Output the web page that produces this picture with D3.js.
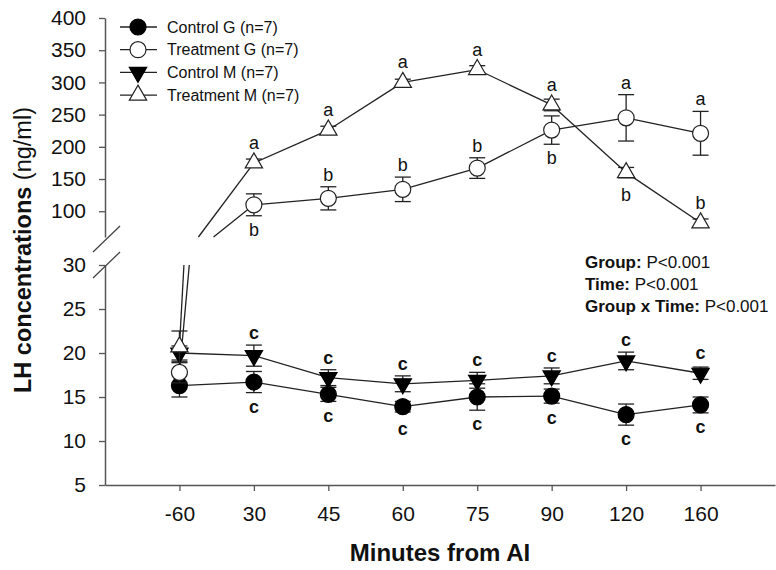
<!DOCTYPE html>
<html>
<head>
<meta charset="utf-8">
<script src="https://d3js.org/d3.v7.min.js"></script>
<style>
  body { margin: 0; background: #fff; }
  text { font-family: "Liberation Sans", Arial, sans-serif; fill: #111; }
</style>
</head>
<body>
<script>
// time points (x categories)
const timeLabels = ['-60', '30', '45', '60', '75', '90', '120', '160'];

// LH means and SEM
const controlG    = [16.3, 16.7, 15.3, 13.9, 15.0, 15.1, 13.0, 14.1];
const controlGErr = [1.3, 1.2, 0.8, 0.6, 1.5, 0.8, 1.2, 0.9];
const treatG      = [17.8, 110, 120, 134, 167, 226, 245, 221];
const treatGErr   = [1.2, 17, 18, 19, 16, 22, 36, 34];
const controlM    = [20.0, 19.7, 17.2, 16.5, 16.9, 17.4, 19.1, 17.7];
const controlMErr = [0.8, 1.2, 0.9, 0.9, 0.9, 0.9, 1.0, 0.7];
const treatM      = [20.7, 175, 226, 300, 320, 265, 160, 82];
const treatMErr   = [1.8, 6, 6, 5, 6, 9, 8, 6];

// significance letters + which side of the point they sit on
const lettersControlG = ['', 'c', 'c', 'c', 'c', 'c', 'c', 'c'];
const sidesControlG   = ['', 'below', 'below', 'below', 'below', 'below', 'below', 'below'];
const lettersTreatG   = ['', 'b', 'b', 'b', 'b', 'b', 'a', 'a'];
const sidesTreatG     = ['', 'below', 'above', 'above', 'above', 'below', 'above', 'above'];
const lettersControlM = ['', 'c', 'c', 'c', 'c', 'c', 'c', 'c'];
const sidesControlM   = ['', 'above', 'above', 'above', 'above', 'above', 'above', 'above'];
const lettersTreatM   = ['', 'a', 'a', 'a', 'a', 'a', 'b', 'b'];
const sidesTreatM     = ['', 'above', 'above', 'above', 'above', 'above', 'below', 'above'];

const upperTicks = [100, 150, 200, 250, 300, 350, 400];
const lowerTicks = [5, 10, 15, 20, 25, 30];
const statsLines = [['Group:', ' P<0.001'], ['Time:', ' P<0.001'], ['Group x Time:', ' P<0.001']];

const series = [
  {name: 'Control G (n=7)',   vals: controlG, err: controlGErr, shape: 'circle',   filled: true,  letters: lettersControlG, sides: sidesControlG},
  {name: 'Treatment G (n=7)', vals: treatG,   err: treatGErr,   shape: 'circle',   filled: false, letters: lettersTreatG,   sides: sidesTreatG},
  {name: 'Control M (n=7)',   vals: controlM, err: controlMErr, shape: 'down',     filled: true,  letters: lettersControlM, sides: sidesControlM},
  {name: 'Treatment M (n=7)', vals: treatM,   err: treatMErr,   shape: 'triangle', filled: false, letters: lettersTreatM,   sides: sidesTreatM}
];

const width = 776, height = 570;
const ink = '#222';

const svg = d3.select('body').append('svg')
  .attr('width', width)
  .attr('height', height);

// x: category index 1..8 on a 0..9 span
const x = d3.scaleLinear().domain([0, 9]).range([105, 775]);
// broken y axis
const yHigh = d3.scaleLinear().domain([60, 400]).range([237, 18]);
const yLow  = d3.scaleLinear().domain([5, 30]).range([485, 265]);
const yOf = v => v <= 30 ? yLow(v) : yHigh(v);

// axes
function styleAxis(g, fontSize) {
  g.select('.domain').attr('stroke', '#555').attr('stroke-width', 1.5);
  g.selectAll('.tick line').attr('stroke', '#555').attr('stroke-width', 1.3);
  g.selectAll('.tick text')
    .attr('font-size', fontSize)
    .attr('font-family', '"Liberation Sans", Arial, sans-serif')
    .attr('fill', '#111');
}

const xAxis = svg.append('g')
  .attr('transform', `translate(0,${yLow(5)})`)
  .call(d3.axisBottom(x)
    .tickValues(d3.range(1, timeLabels.length + 1))
    .tickFormat(i => timeLabels[i - 1])
    .tickSize(6).tickSizeOuter(0).tickPadding(15));
styleAxis(xAxis, 21);

const yAxisHigh = svg.append('g')
  .attr('transform', `translate(${x(0)},0)`)
  .call(d3.axisLeft(yHigh).tickValues(upperTicks).tickSize(6).tickSizeOuter(0).tickPadding(13));
styleAxis(yAxisHigh, 21);

const yAxisLow = svg.append('g')
  .attr('transform', `translate(${x(0)},0)`)
  .call(d3.axisLeft(yLow).tickValues(lowerTicks).tickSize(6).tickSizeOuter(0).tickPadding(13));
styleAxis(yAxisLow, 21);

// break marks on the y axis
[yHigh(60) + 3, yLow(30) + 1].forEach(cy => {
  svg.append('line')
    .attr('x1', x(0) - 12).attr('y1', cy + 12)
    .attr('x2', x(0) + 15).attr('y2', cy - 14)
    .attr('stroke', '#444').attr('stroke-width', 1.3);
});

// split a connecting line where it passes through the gap
function segments(vals) {
  const out = [];
  for (let i = 0; i < vals.length - 1; i++) {
    const a = vals[i], b = vals[i + 1];
    const x0 = x(i + 1), x1 = x(i + 2);
    if ((a <= 30) === (b <= 30)) {
      out.push([x0, yOf(a), x1, yOf(b)]);
      continue;
    }
    const t30 = (30 - a) / (b - a), t60 = (60 - a) / (b - a);
    if (a <= 30) {
      out.push([x0, yLow(a), x(i + 1 + t30), yLow(30)]);
      out.push([x(i + 1 + t60), yHigh(60), x1, yHigh(b)]);
    } else {
      out.push([x0, yHigh(a), x(i + 1 + t60), yHigh(60)]);
      out.push([x(i + 1 + t30), yLow(30), x1, yLow(b)]);
    }
  }
  return out;
}

const circle = d3.symbol().type(d3.symbolCircle).size(Math.PI * 64);
const tri = d3.symbol().type(d3.symbolTriangle).size(130);

function drawSymbol(g, s, cx, cy) {
  const p = g.append('path')
    .attr('d', s.shape === 'circle' ? circle() : tri())
    .attr('fill', s.filled ? '#000' : '#fff')
    .attr('stroke', s.filled ? '#000' : ink)
    .attr('stroke-width', 1.2);
  if (s.shape === 'down') p.attr('transform', `translate(${cx},${cy}) rotate(180)`);
  else p.attr('transform', `translate(${cx},${cy})`);
}

const plot = svg.append('g');

series.forEach(s => {
  const g = plot.append('g');

  g.selectAll('line.conn')
    .data(segments(s.vals))
    .join('line')
    .attr('class', 'conn')
    .attr('x1', d => d[0]).attr('y1', d => d[1])
    .attr('x2', d => d[2]).attr('y2', d => d[3])
    .attr('stroke', ink).attr('stroke-width', 1.3);

  s.vals.forEach((v, i) => {
    const cx = x(i + 1);
    const yt = yOf(v + s.err[i]), yb = yOf(v - s.err[i]);
    g.append('line').attr('x1', cx).attr('x2', cx).attr('y1', yt).attr('y2', yb)
      .attr('stroke', ink).attr('stroke-width', 1.3);
    [yt, yb].forEach(yy => {
      g.append('line').attr('x1', cx - 8).attr('x2', cx + 8).attr('y1', yy).attr('y2', yy)
        .attr('stroke', ink).attr('stroke-width', 1.3);
    });
  });

  s.vals.forEach((v, i) => drawSymbol(g, s, x(i + 1), yOf(v)));
});

// letters on top
series.forEach(s => {
  s.vals.forEach((v, i) => {
    if (!s.letters[i]) return;
    const cy = yOf(v);
    const top = Math.min(yOf(v + s.err[i]), cy - 8);
    const bottom = Math.max(yOf(v - s.err[i]), cy + 8);
    svg.append('text')
      .attr('x', x(i + 1))
      .attr('y', s.sides[i] === 'above' ? top - 6 : bottom + 20)
      .attr('text-anchor', 'middle')
      .attr('font-size', 18)
      .attr('font-weight', s.letters[i] === 'c' ? 'bold' : 'normal')
      .text(s.letters[i]);
  });
});

// legend
const legend = svg.append('g').attr('transform', 'translate(120,27)');
series.forEach((s, i) => {
  const row = legend.append('g').attr('transform', `translate(0,${i * 22.7})`);
  row.append('line').attr('x1', 0).attr('x2', 37).attr('stroke', ink).attr('stroke-width', 1.3);
  drawSymbol(row, s, 18, 0);
  row.append('text').attr('x', 47).attr('y', 5.5).attr('font-size', 16).text(s.name);
});

// stats
statsLines.forEach((ln, i) => {
  const t = svg.append('text').attr('x', 585).attr('y', 268 + i * 22).attr('font-size', 17);
  t.append('tspan').attr('font-weight', 'bold').text(ln[0]);
  t.append('tspan').text(ln[1]);
});

// axis titles
const yTitle = svg.append('text')
  .attr('transform', 'translate(31,250) rotate(-90)')
  .attr('text-anchor', 'middle')
  .attr('font-size', 23.5);
yTitle.append('tspan').attr('font-weight', 'bold').text('LH concentrations ');
yTitle.append('tspan').text('(ng/ml)');

svg.append('text')
  .attr('x', 440).attr('y', 561)
  .attr('text-anchor', 'middle')
  .attr('font-size', 24)
  .attr('font-weight', 'bold')
  .text('Minutes from AI');
</script>
</body>
</html>
